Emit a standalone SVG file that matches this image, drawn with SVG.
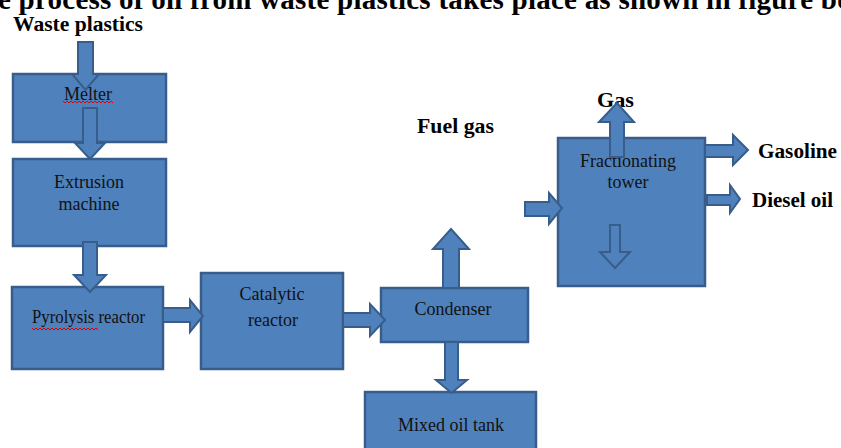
<svg xmlns="http://www.w3.org/2000/svg" width="841" height="448" viewBox="0 0 841 448">
<style>
.box{fill:#4f81bd;stroke:#385d8a;stroke-width:2.5}
.arr{fill:#4f81bd;stroke:#385d8a;stroke-width:2;stroke-linejoin:miter}
.t{font-family:"Liberation Serif","Times New Roman",serif;font-size:18px;fill:#111;text-anchor:middle}
.lbl{font-family:"Liberation Serif","Times New Roman",serif;font-size:20px;font-weight:bold;fill:#000}
.sq{fill:none;stroke:#e00000;stroke-width:1}
</style>
<rect width="841" height="448" fill="#fff"/>
<text x="-2" y="9" font-family="Liberation Serif, serif" font-size="29" font-weight="bold" fill="#000" textLength="852" lengthAdjust="spacing">e process of oil from waste plastics takes place as shown in figure be</text>
<text class="lbl" x="13" y="31" textLength="130" lengthAdjust="spacingAndGlyphs">Waste plastics</text>
<text class="lbl" x="417" y="133" textLength="77" lengthAdjust="spacingAndGlyphs">Fuel gas</text>
<text class="lbl" x="597" y="107" textLength="37" lengthAdjust="spacingAndGlyphs">Gas</text>
<text class="lbl" x="758" y="158" textLength="79" lengthAdjust="spacingAndGlyphs">Gasoline</text>
<text class="lbl" x="752" y="207" textLength="81" lengthAdjust="spacingAndGlyphs">Diesel oil</text>
<g id="melter">
<rect class="box" x="13" y="74" width="153" height="68"/>
</g>
<g id="extrusion">
<rect class="box" x="13" y="159" width="153" height="87"/>
<text class="t" x="89" y="188">Extrusion</text>
<text class="t" x="89" y="210">machine</text>
</g>
<g id="pyrolysis">
<rect class="box" x="12" y="287" width="151" height="82"/>
<text class="t" x="32" y="323" style="text-anchor:start" textLength="113" lengthAdjust="spacingAndGlyphs">Pyrolysis reactor</text>
<path class="sq" d="M32,328 l2,2 l2,-2 l2,2 l2,-2 l2,2 l2,-2 l2,2 l2,-2 l2,2 l2,-2 l2,2 l2,-2 l2,2 l2,-2 l2,2 l2,-2 l2,2 l2,-2 l2,2 l2,-2 l2,2 l2,-2 l2,2 l2,-2 l2,2 l2,-2 l2,2 l2,-2 l2,2 l2,-2 l2,2 l2,-2 l2,2"/>
</g>
<g id="catalytic">
<rect class="box" x="201" y="273" width="142" height="96"/>
<text class="t" x="272" y="300">Catalytic</text>
<text class="t" x="273" y="326">reactor</text>
</g>
<g id="condenser">
<rect class="box" x="381" y="288" width="147" height="54"/>
<text class="t" x="453" y="315">Condenser</text>
</g>
<g id="mixedoil">
<rect class="box" x="365" y="392" width="171" height="62"/>
<text class="t" x="451" y="431">Mixed oil tank</text>
</g>
<g id="tower">
<rect class="box" x="558" y="138" width="147" height="148"/>
<text class="t" x="628" y="167">Fractionating</text>
<text class="t" x="628" y="188">tower</text>
</g>
<g id="connectors">
<polygon class="arr" points="78,42 93,42 93,74 99,74 85.5,90 72,74 78,74"/>
<polygon class="arr" points="83,108 97,108 97,143 105,143 90,159 75,143 83,143"/>
<polygon class="arr" points="83,242 97,242 97,275 106,275 90,292 74,275 83,275"/>
<polygon class="arr" points="163,308 190,308 190,300 203,316 190,332 190,322 163,322"/>
<polygon class="arr" points="343,313 370,313 370,304 385,320 370,336 370,327 343,327"/>
<polygon class="arr" points="443,288 443,249 433,249 451,229 469,249 459,249 459,288"/>
<polygon class="arr" points="445,342 458,342 458,380 467,380 451.5,393 436,380 445,380"/>
<polygon class="arr" points="525,202 549,202 549,193 562,208 549,224 549,216 525,216"/>
<polygon class="arr" points="610,157 610,122 599,122 617,103 634,122 624,122 624,157"/>
<polygon class="arr" points="705,145 733,145 733,135 748,150 733,165 733,157 705,157"/>
<polygon class="arr" points="707,195 730,195 730,185 740,199 730,213 730,205 707,205"/>
<polygon class="arr" points="610,225 620,225 620,252 630,252 615,268 600,252 610,252"/>
</g>
<text class="t" x="88" y="100">Melter</text>
<path class="sq" d="M63,101 l2,2 l2,-2 l2,2 l2,-2 l2,2 l2,-2 l2,2 l2,-2 l2,2 l2,-2 l2,2 l2,-2 l2,2 l2,-2 l2,2 l2,-2 l2,2 l2,-2 l2,2 l2,-2 l2,2 l2,-2 l2,2 l2,-2 l2,2"/>
</svg>
